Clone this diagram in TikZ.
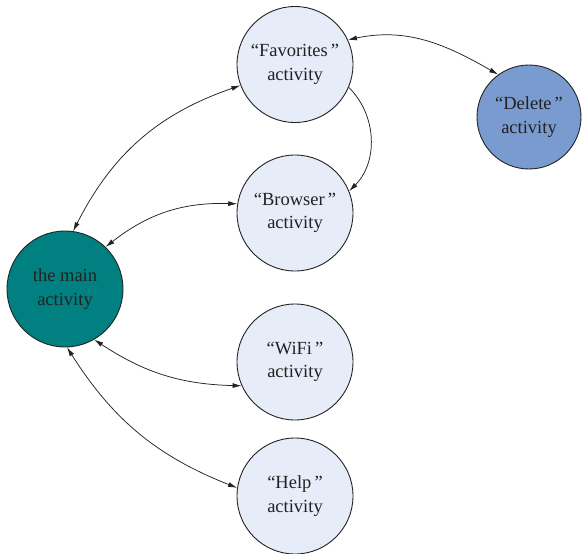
\documentclass[tikz,border=0pt]{standalone}
\usepackage{fontspec}
\setmainfont{Liberation Serif}
\usetikzlibrary{arrows.meta}
\definecolor{actfill}{HTML}{E6ECF8}
\definecolor{delfill}{HTML}{7A9BD0}
\definecolor{mainfill}{HTML}{008080}
\definecolor{inkline}{HTML}{222222}

\begin{document}
\begin{tikzpicture}[x=1pt,y=1pt,
  act/.style={circle, draw=inkline, line width=0.9pt, fill=actfill,
    minimum size=116pt, inner sep=0pt, align=center, text=inkline,
    font=\fontsize{18.5}{23.5}\selectfont},
  link/.style={line width=0.75pt, draw=inkline, {Latex[length=9pt,width=5pt]}-{Latex[length=9pt,width=5pt]}},
  onelink/.style={line width=0.75pt, draw=inkline, -{Latex[length=9pt,width=5pt]}}]
\useasboundingbox (0,0) rectangle (582,-554);

% activity circles
\node[act] (fav) at (295,-64.5) {“Favorites\,”\\activity};
\node[act, fill=delfill, minimum size=104pt] (del) at (529,-117) {“Delete\,”\\activity};
\node[act] (brow) at (295,-213) {“Browser\,”\\activity};
\node[act, fill=mainfill] (main) at (65,-289) {the main\\activity};
\node[act] (wifi) at (295,-362) {“WiFi\,”\\activity};
\node[act] (help) at (295,-496) {“Help\,”\\activity};

% transitions
\draw[link] (fav.25) to[out=12,in=150] (del.126);
\draw[onelink] (fav.-23) to[out=-45,in=45] (brow.22);
\draw[link] (main.82) to[bend left=22] (fav.-159);
\draw[link] (main.46) to[bend left=20] (brow.171);
\draw[link] (main.-60) to[bend right=16] (wifi.-156);
\draw[link] (main.-88) to[bend right=18] (help.172);
\end{tikzpicture}
\end{document}
